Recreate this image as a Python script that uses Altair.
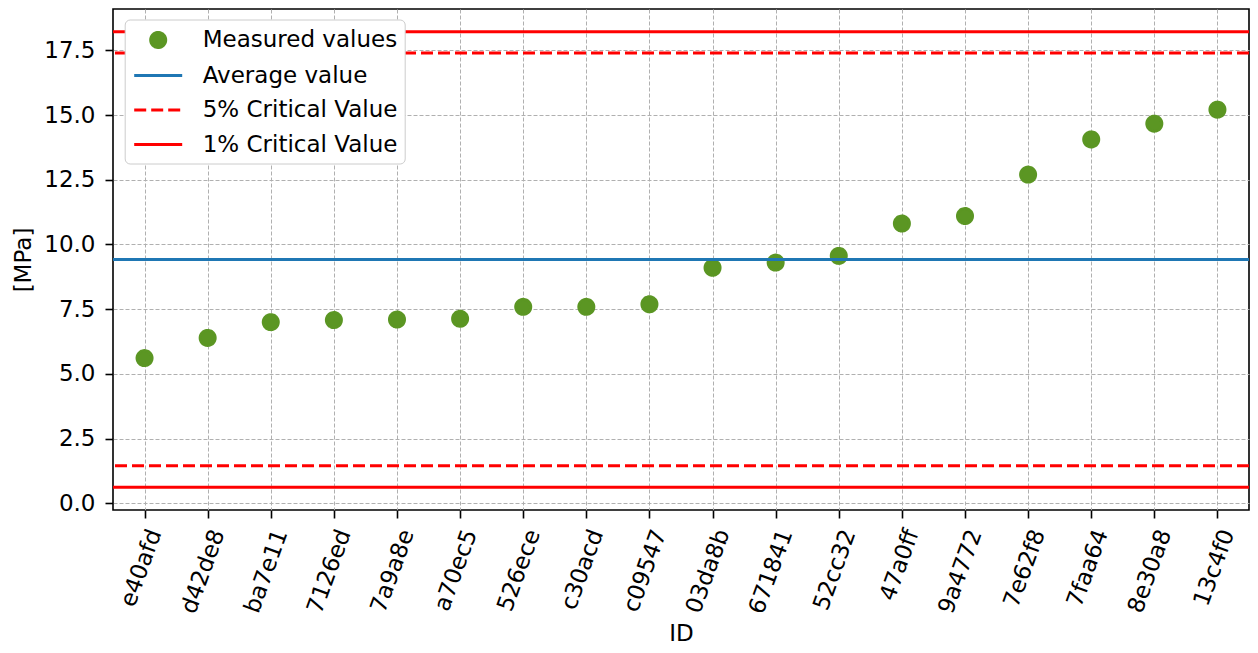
import altair as alt
import pandas as pd

# ---- data ----
ids = ["e40afd", "d42de8", "ba7e11", "7126ed", "7a9a8e", "a70ec5", "526ece",
       "c30acd", "c09547", "03da8b", "671841", "52cc32", "47a0ff", "9a4772",
       "7e62f8", "7faa64", "8e30a8", "13c4f0"]
values = [5.61, 6.39, 7.00, 7.08, 7.10, 7.13, 7.59, 7.59, 7.69, 9.10, 9.30,
          9.56, 10.81, 11.10, 12.70, 14.06, 14.67, 15.21]

series_names = ["Measured values", "Average value", "5% Critical Value", "1% Critical Value"]
series_colors = ["#5b9623", "#1f77b4", "#ff0000", "#ff0000"]
series_dashes = [[1, 0], [1, 0], [12, 5], [1, 0]]
circle_path = "M0.625,0A0.625,0.625,0,1,1,-0.625,0A0.625,0.625,0,1,1,0.625,0Z"
line_path = "M-2,0L2,0"
series_shapes = [circle_path, line_path, line_path, line_path]

average_value = 9.42
crit5_values = [1.45, 17.40]
crit1_values = [0.62, 18.22]

y_ticks = [0.0, 2.5, 5.0, 7.5, 10.0, 12.5, 15.0, 17.5]
y_domain = [-0.26, 19.1]

points_df = pd.DataFrame({"id": ids, "value": values, "series": "Measured values"})
lines_df = pd.DataFrame({
    "value": [average_value] + crit5_values + crit1_values,
    "series": ["Average value"] + ["5% Critical Value"] * 2 + ["1% Critical Value"] * 2,
})

color_scale = alt.Scale(domain=series_names, range=series_colors)
dash_scale = alt.Scale(domain=series_names, range=series_dashes)
shape_scale = alt.Scale(domain=series_names, range=series_shapes)

W, H = 1136, 501
FS = 23

points = alt.Chart(points_df).mark_point(
    size=576, strokeWidth=3, opacity=1
).encode(
    x=alt.X("id:N", sort=ids, title="ID",
            scale=alt.Scale(type="point", padding=0.5),
            axis=alt.Axis(labelAngle=290, labelAlign="right", labelBaseline="middle",
                          labelPadding=12, labelOffset=10, labelOverlap=False,
                          titleX=W / 2, titleY=130, titleAlign="center",
                          titleBaseline="alphabetic")),
    y=alt.Y("value:Q", title="[MPa]",
            scale=alt.Scale(domain=y_domain, nice=False, zero=False),
            axis=alt.Axis(values=y_ticks, format=".1f", labelPadding=10,
                          titleX=-83, titleY=H / 2, titleAngle=270,
                          titleAlign="center", titleBaseline="alphabetic")),
    fill=alt.Fill("series:N", scale=color_scale, title=None),
    stroke=alt.Stroke("series:N", scale=color_scale, title=None),
    shape=alt.Shape("series:N", scale=shape_scale, title=None),
    strokeDash=alt.StrokeDash("series:N", scale=dash_scale, title=None),
)

rules = alt.Chart(lines_df).mark_rule(strokeWidth=3).encode(
    y=alt.Y("value:Q"),
    stroke=alt.Stroke("series:N", scale=color_scale, title=None),
    strokeDash=alt.StrokeDash("series:N", scale=dash_scale, title=None),
)

chart = alt.layer(points, rules).properties(
    width=W, height=H,
    autosize=alt.AutoSizeParams(type="none"),
    padding={"left": 105, "top": 1, "right": 1, "bottom": 135},
).configure_view(
    stroke="black", strokeWidth=1.6
).configure_axis(
    labelFont="DejaVu Sans", labelFontSize=FS, labelColor="black",
    titleFont="DejaVu Sans", titleFontSize=FS, titleFontWeight="normal", titleColor="black",
    grid=True, gridColor="#b0b0b0", gridDash=[4, 2], gridWidth=1,
    tickColor="black", tickWidth=1.6, tickSize=8, domain=False,
).configure_legend(
    orient="none", legendX=11.7, legendY=10.5, padding=7, rowPadding=8.5,
    symbolSize=576, symbolStrokeWidth=3, symbolOffset=13, labelOffset=31,
    labelFont="DejaVu Sans", labelFontSize=FS, labelColor="black", labelLimit=400,
    fillColor="white", strokeColor="#cccccc", cornerRadius=5,
)

chart.save("out.html", embed_options={"renderer": "svg", "actions": False})
